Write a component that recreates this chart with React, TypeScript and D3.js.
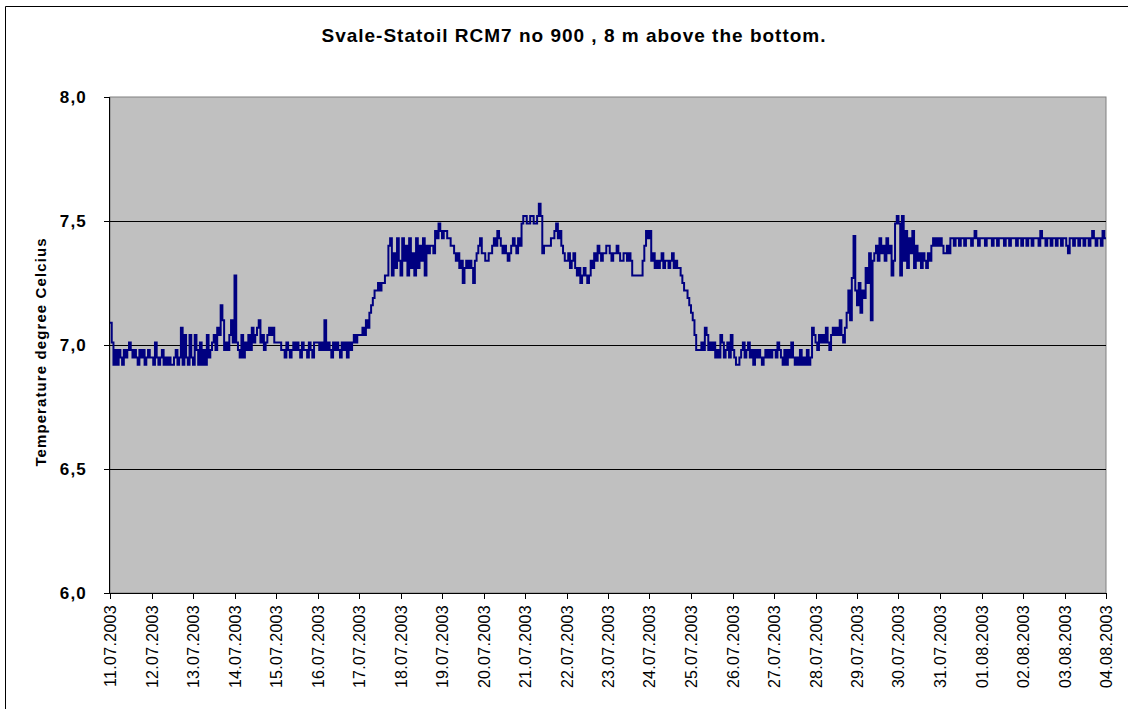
import React from "react";
import * as d3 from "d3";

const TITLE = "Svale-Statoil RCM7 no 900 , 8 m above the bottom.";
const Y_TITLE = "Temperature degree Celcius";

const dateLabels = [
  "11.07.2003", "12.07.2003", "13.07.2003", "14.07.2003", "15.07.2003",
  "16.07.2003", "17.07.2003", "18.07.2003", "19.07.2003", "20.07.2003",
  "21.07.2003", "22.07.2003", "23.07.2003", "24.07.2003", "25.07.2003",
  "26.07.2003", "27.07.2003", "28.07.2003", "29.07.2003", "30.07.2003",
  "31.07.2003", "01.08.2003", "02.08.2003", "03.08.2003", "04.08.2003",
];
const yTickValues = [6.0, 6.5, 7.0, 7.5, 8.0];

// hourly temperatures (degC), 24 values per day
const jul11 = [7.09, 7.01, 6.92, 6.98, 6.92, 6.98, 6.95, 6.92, 6.98, 6.95, 6.98, 7.01, 6.98, 6.95, 6.98, 6.95, 6.92, 6.98, 6.95, 6.98, 6.92, 6.95, 6.98, 6.95];
const jul12 = [6.95, 6.92, 7.01, 6.95, 6.92, 6.95, 6.98, 6.92, 6.95, 6.92, 6.95, 6.92, 6.92, 6.95, 6.98, 6.92, 6.95, 7.07, 6.92, 7.04, 6.95, 6.92, 7.04, 6.95];
const jul13 = [6.92, 7.04, 6.98, 6.92, 7.01, 6.92, 6.98, 6.92, 7.04, 6.95, 6.98, 7.01, 7.04, 6.98, 7.07, 7.04, 7.16, 7.10, 6.98, 7.01, 6.98, 7.04, 7.10, 7.01];
const jul14 = [7.28, 7.01, 6.98, 6.95, 7.04, 6.95, 7.01, 6.98, 7.04, 6.98, 7.07, 7.01, 7.04, 7.07, 7.10, 7.01, 7.04, 6.98, 7.01, 7.04, 7.07, 7.04, 7.07, 7.01];
const jul15 = [7.01, 7.01, 7.01, 6.98, 6.98, 6.95, 7.01, 6.98, 6.95, 6.98, 7.01, 6.98, 7.01, 6.98, 6.95, 7.01, 6.98, 6.98, 6.95, 7.01, 6.98, 6.95, 7.01, 7.01];
const jul16 = [7.01, 6.98, 7.01, 6.98, 7.10, 6.98, 7.01, 6.98, 6.95, 7.01, 6.98, 7.01, 6.98, 6.95, 7.01, 6.98, 7.01, 6.95, 7.01, 6.98, 7.01, 7.04, 7.01, 7.04];
const jul17 = [7.04, 7.04, 7.07, 7.04, 7.10, 7.07, 7.13, 7.16, 7.19, 7.22, 7.22, 7.25, 7.22, 7.25, 7.25, 7.28, 7.28, 7.40, 7.43, 7.28, 7.37, 7.31, 7.43, 7.34];
const jul18 = [7.28, 7.43, 7.34, 7.40, 7.28, 7.43, 7.31, 7.37, 7.28, 7.43, 7.31, 7.40, 7.34, 7.43, 7.28, 7.40, 7.37, 7.40, 7.40, 7.37, 7.46, 7.43, 7.49, 7.46];
const jul19 = [7.43, 7.46, 7.46, 7.43, 7.43, 7.40, 7.40, 7.37, 7.34, 7.37, 7.31, 7.34, 7.25, 7.31, 7.34, 7.31, 7.34, 7.31, 7.25, 7.34, 7.37, 7.40, 7.43, 7.37];
const jul20 = [7.37, 7.34, 7.34, 7.37, 7.37, 7.40, 7.43, 7.40, 7.46, 7.43, 7.40, 7.37, 7.40, 7.37, 7.34, 7.37, 7.40, 7.43, 7.40, 7.37, 7.43, 7.40, 7.49, 7.52];
const jul21 = [7.52, 7.49, 7.49, 7.52, 7.52, 7.49, 7.49, 7.52, 7.57, 7.52, 7.37, 7.40, 7.40, 7.40, 7.40, 7.43, 7.43, 7.46, 7.49, 7.43, 7.46, 7.40, 7.37, 7.34];
const jul22 = [7.34, 7.37, 7.31, 7.34, 7.37, 7.31, 7.28, 7.31, 7.25, 7.28, 7.31, 7.28, 7.25, 7.28, 7.34, 7.31, 7.37, 7.34, 7.40, 7.37, 7.34, 7.37, 7.37, 7.40];
const jul23 = [7.40, 7.37, 7.34, 7.37, 7.37, 7.40, 7.37, 7.34, 7.34, 7.37, 7.37, 7.34, 7.37, 7.34, 7.28, 7.28, 7.28, 7.28, 7.28, 7.28, 7.34, 7.40, 7.46, 7.43];
const jul24 = [7.46, 7.34, 7.37, 7.31, 7.34, 7.31, 7.34, 7.37, 7.31, 7.34, 7.34, 7.31, 7.34, 7.37, 7.31, 7.34, 7.31, 7.31, 7.28, 7.25, 7.22, 7.22, 7.19, 7.16];
const jul25 = [7.13, 7.10, 7.04, 6.98, 6.98, 6.98, 7.01, 6.98, 7.07, 7.04, 6.98, 7.01, 6.98, 7.01, 6.95, 6.98, 6.95, 7.04, 7.01, 6.95, 6.98, 7.01, 6.95, 7.04];
const jul26 = [6.98, 6.95, 6.92, 6.92, 6.95, 6.98, 7.01, 6.95, 6.98, 7.01, 6.95, 6.98, 6.92, 6.98, 6.95, 6.98, 6.95, 6.92, 6.95, 6.98, 6.95, 6.98, 6.95, 6.98];
const jul27 = [6.98, 6.95, 7.01, 6.98, 6.95, 6.92, 6.98, 6.92, 6.98, 6.95, 7.01, 6.95, 6.92, 6.95, 6.92, 6.98, 6.92, 6.95, 6.92, 6.98, 6.92, 6.95, 7.07, 7.04];
const jul28 = [7.01, 6.98, 7.04, 7.01, 7.04, 7.01, 7.07, 7.01, 6.98, 7.04, 7.07, 7.04, 7.07, 7.04, 7.10, 7.04, 7.01, 7.07, 7.13, 7.22, 7.10, 7.27, 7.44, 7.22];
const jul29 = [7.16, 7.25, 7.13, 7.22, 7.19, 7.31, 7.25, 7.37, 7.10, 7.34, 7.37, 7.40, 7.34, 7.43, 7.37, 7.40, 7.34, 7.43, 7.37, 7.40, 7.28, 7.34, 7.49, 7.52];
const jul30 = [7.49, 7.28, 7.52, 7.34, 7.46, 7.31, 7.43, 7.37, 7.46, 7.31, 7.40, 7.34, 7.37, 7.31, 7.37, 7.34, 7.31, 7.37, 7.34, 7.40, 7.43, 7.40, 7.43, 7.40];
const jul31 = [7.43, 7.40, 7.37, 7.37, 7.40, 7.37, 7.43, 7.43, 7.40, 7.43, 7.43, 7.40, 7.43, 7.43, 7.40, 7.43, 7.43, 7.43, 7.40, 7.43, 7.46, 7.43, 7.40, 7.43];
const aug01 = [7.43, 7.43, 7.40, 7.43, 7.43, 7.43, 7.40, 7.43, 7.43, 7.40, 7.43, 7.43, 7.43, 7.40, 7.43, 7.43, 7.40, 7.43, 7.43, 7.43, 7.40, 7.43, 7.43, 7.40];
const aug02 = [7.43, 7.43, 7.40, 7.43, 7.43, 7.40, 7.43, 7.43, 7.43, 7.40, 7.46, 7.43, 7.43, 7.40, 7.43, 7.43, 7.40, 7.43, 7.43, 7.40, 7.43, 7.43, 7.40, 7.43];
const aug03 = [7.43, 7.40, 7.37, 7.43, 7.43, 7.40, 7.43, 7.43, 7.40, 7.43, 7.43, 7.40, 7.43, 7.43, 7.40, 7.43, 7.46, 7.43, 7.40, 7.43, 7.43, 7.40, 7.46, 7.43];
const aug04 = [7.43];

const dailySeries = [
  jul11, jul12, jul13, jul14, jul15, jul16, jul17, jul18, jul19, jul20,
  jul21, jul22, jul23, jul24, jul25, jul26, jul27, jul28, jul29, jul30,
  jul31, aug01, aug02, aug03, aug04,
];

const FONT = "'Liberation Sans', Arial, sans-serif";

export default function App() {
  const W = 1128;
  const H = 709;
  const left = 110, right = 1106, top = 97, bottom = 593;

  const start = new Date(2003, 6, 11, 0, 0, 0);
  const end = new Date(2003, 7, 4, 0, 0, 0);
  const x = d3.scaleTime().domain([start, end]).range([left, right]);
  const y = d3.scaleLinear().domain([6, 8]).range([bottom, top]);

  const values = dailySeries.flat();
  const pts = values.map((v, i) => ({ t: d3.timeHour.offset(start, i), v }));
  const line = d3
    .line<{ t: Date; v: number }>()
    .x((d) => x(d.t))
    .y((d) => y(d.v))
    .curve(d3.curveStepAfter);

  const dayTicks = dateLabels.map((lab, i) => ({ lab, t: d3.timeDay.offset(start, i) }));
  const fmt = (v: number) => v.toFixed(1).replace(".", ",");

  return (
    <svg
      width={W}
      height={H}
      style={{ position: "absolute", left: 0, top: 0, background: "#fff" }}
      fontFamily={FONT}
    >
      {/* chart area border (left and top visible) */}
      <path d="M5.5,720 L5.5,6.5 L1140,6.5" fill="none" stroke="#000" strokeWidth={1} />

      {/* plot area */}
      <rect x={left} y={top} width={right - left} height={bottom - top} fill="#C0C0C0" stroke="#808080" strokeWidth={1} />

      {/* gridlines */}
      {yTickValues
        .filter((v) => v > 6 && v < 8)
        .map((v) => (
          <line key={"g" + v} x1={left} x2={right} y1={Math.round(y(v)) + 0.5} y2={Math.round(y(v)) + 0.5} stroke="#000" strokeWidth={1} />
        ))}

      {/* data line */}
      <path d={line(pts) || ""} fill="none" stroke="#000080" strokeWidth={2} strokeLinejoin="miter" />

      {/* axes */}
      <line x1={left - 0.5} x2={left - 0.5} y1={top} y2={bottom} stroke="#000" strokeWidth={1} />
      <line x1={left} x2={right} y1={bottom + 0.5} y2={bottom + 0.5} stroke="#000" strokeWidth={1} />

      {/* y ticks & labels */}
      {yTickValues.map((v) => (
        <g key={"y" + v}>
          <line x1={left - 6} x2={left} y1={Math.round(y(v)) + 0.5} y2={Math.round(y(v)) + 0.5} stroke="#000" strokeWidth={1} />
          <text
            x={87}
            y={y(v) + 6}
            textAnchor="end"
            fontSize={17}
            fontWeight="bold"
            letterSpacing={1.2}
            fill="#000"
          >
            {fmt(v)}
          </text>
        </g>
      ))}

      {/* x ticks & labels */}
      {dayTicks.map((d, i) => {
        const xp = Math.round(x(d.t));
        return (
          <g key={"x" + i}>
            <line x1={xp + 0.5} x2={xp + 0.5} y1={bottom} y2={bottom + 6} stroke="#000" strokeWidth={1} />
            <text
              transform={`translate(${xp + 6},${605}) rotate(-90)`}
              textAnchor="end"
              fontSize={16}
              letterSpacing={0.3}
              fill="#000"
            >
              {d.lab}
            </text>
          </g>
        );
      })}

      {/* title */}
      <text x={574} y={42} textAnchor="middle" fontSize={19} fontWeight="bold" letterSpacing={1.0} fill="#000">
        {TITLE}
      </text>

      {/* y axis title */}
      <text
        transform={`translate(46,352) rotate(-90)`}
        textAnchor="middle"
        fontSize={15}
        fontWeight="bold"
        letterSpacing={1.1}
        fill="#000"
      >
        {Y_TITLE}
      </text>
    </svg>
  );
}
